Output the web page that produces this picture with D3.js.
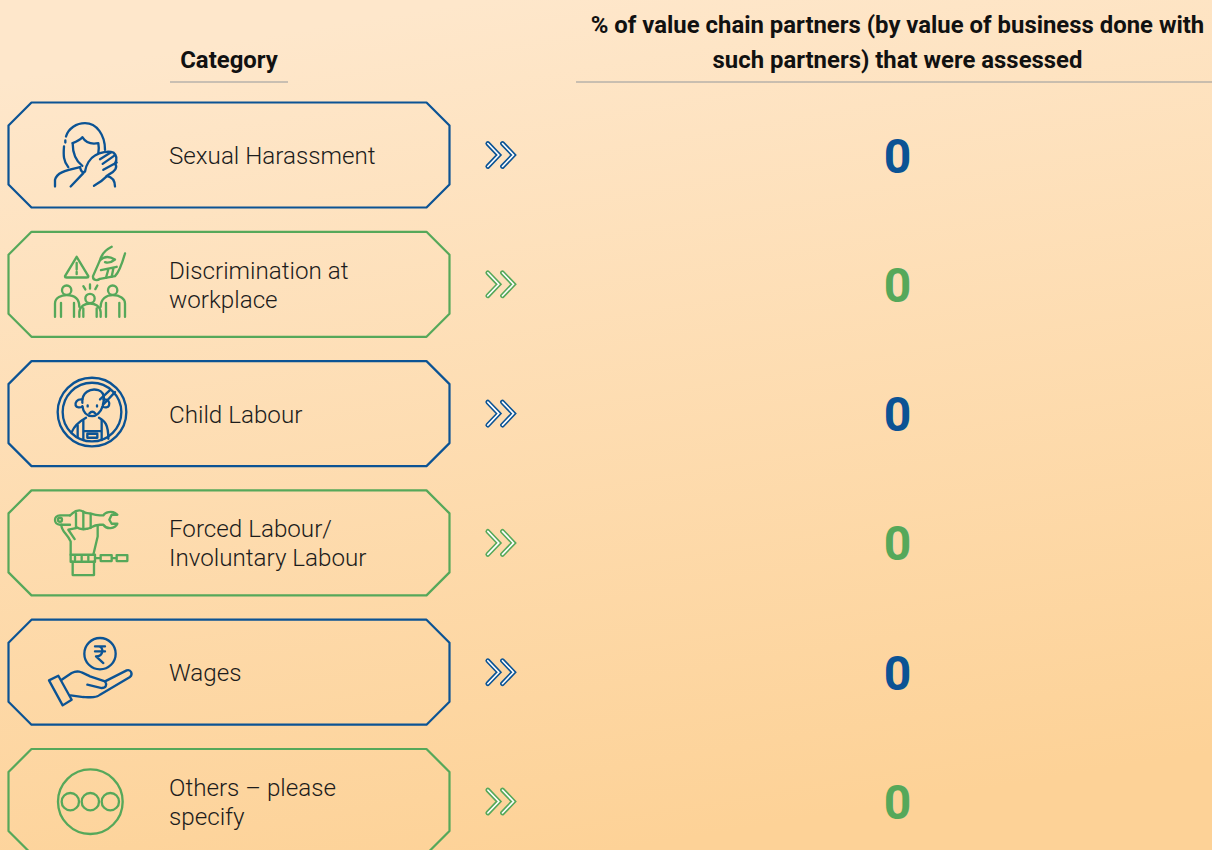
<!DOCTYPE html>
<html>
<head>
<meta charset="utf-8">
<script src="https://cdn.jsdelivr.net/npm/d3@7"></script>
<style>
  html, body { margin: 0; padding: 0; overflow: hidden; }
  svg { display: block; font-family: Roboto, sans-serif; }
</style>
</head>
<body>
<svg id="chart" width="1212" height="850"></svg>
<script>
const categories = [
  ['Sexual Harassment'],
  ['Discrimination at', 'workplace'],
  ['Child Labour'],
  ['Forced Labour/', 'Involuntary Labour'],
  ['Wages'],
  ['Others \u2013 please', 'specify']
];
const values = [0, 0, 0, 0, 0, 0];
const rowColors = ['#0b5394', '#56a85a', '#0b5394', '#56a85a', '#0b5394', '#56a85a'];
const iconNames = ['harassment', 'discrimination', 'child', 'forced', 'wages', 'others'];
const headerLeft = ['Category'];
const headerRight = ['% of value chain partners (by value of business done with', 'such partners) that were assessed'];

const svg = d3.select('#chart');
const width = +svg.attr('width');
const height = +svg.attr('height');

// background wash
const defs = svg.append('defs');
const grad = defs.append('linearGradient')
    .attr('id', 'bg')
    .attr('gradientUnits', 'userSpaceOnUse')
    .attr('x1', 480).attr('y1', 0)
    .attr('x2', 620).attr('y2', 850);
grad.append('stop').attr('offset', '0%').attr('stop-color', '#fee7cb');
grad.append('stop').attr('offset', '100%').attr('stop-color', '#fdd297');
svg.append('rect').attr('width', width).attr('height', height).attr('fill', 'url(#bg)');

// rows
const rowStep = 129.3;
const rowH = 105;
const y = d3.scaleLinear().domain([0, categories.length]).range([102.5, 102.5 + rowStep * categories.length]);
const boxLeft = 8.5, boxRight = 449.5, cut = 23;

// icons are traced in 3x crop space, top is the box top in that space
const icons = {
  harassment: { top: 38, paths: [
    'M198 140C205 115 230 100 255 100C290 100 315 135 315 180',
    'M196 152V158M192 170C190 195 190 215 205 232',
    'M218 160C230 155 240 150 247 142C255 155 270 165 295 160C297 170 297 178 295 190',
    'M218 160C218 190 230 215 247 228',
    'M165 290V270C170 250 190 243 240 232',
    'M212 290L250 250',
    'M240 232C243 245 248 250 255 245C258 225 270 205 285 197C300 187 325 183 340 188C352 198 350 212 345 222C354 232 345 245 325 255C315 265 300 278 282 288',
    'M300 208L332 188M308 222L342 198M310 240L350 218',
    'M320 258C340 262 345 275 345 290'
  ]},
  discrimination: { top: 425, paths: [
    'M230 500L195 558Q195 562 200 562H260Q265 562 265 558Z',
    'M230 518V538M230 545V552',
    'M335 470C315 480 305 492 300 510L279 558C278 572 292 572 300 566L345 558C358 545 365 525 375 490',
    'M300 510C312 498 328 498 345 508C335 516 325 520 315 516M303 540L350 530M318 563L325 538M335 560L340 535',
    'M165 680V640C165 622 185 615 200 615C222 615 238 625 238 650',
    'M183 680V638M222 680V638',
    'M238 680V665C240 648 255 640 270 640C285 640 300 648 302 665V680M250 680V655M290 680V655',
    'M302 650C302 625 320 615 338 615C360 615 375 625 375 640V680M318 680V638M358 680V638',
    'M250 588L256 598M270 583V595M292 586L286 597'
  ], circles: [[200, 600, 14], [338, 600, 14], [270, 625, 14]] },
  child: { top: 35, paths: [
    'M247 160C245 130 270 115 295 122C305 125 312 135 312 150L308 170C302 190 288 200 277 200C262 200 250 190 247 170',
    'M247 150C230 148 225 160 227 168C230 175 240 175 247 172M310 150C325 148 330 160 327 168C324 175 315 175 308 172',
    'M345 128L310 165M330 122L300 150',
    'M268 192Q277 182 286 192M263 168V171M291 168V171',
    'M215 248C225 225 240 215 258 205M297 205C315 215 325 225 325 268',
    'M250 213V272M305 213V272M250 245H305M262 253H292V265H262Z',
    'M233 228V262'
  ], circles: [[276, 188, 103], [276, 188, 88]] },
  forced: { top: 422, paths: [
    'M210 497H180C160 497 160 525 180 525H210',
    'M210 497C220 490 222 482 238 482C250 482 250 490 262 490C275 490 275 495 300 497H310C315 487 335 483 345 490L352 495H335L328 510L335 522H352C345 538 320 540 310 525H300C275 527 275 535 262 537C250 540 240 540 228 532',
    'M228 490V535M250 486V538M272 492V535',
    'M184 525C184 545 200 550 212 575V615M228 535L205 540L224 568M293 528V560L280 615',
    'M212 615H285V636H212ZM225 620V630M245 620V630M265 620V630',
    'M218 636V676H282V636',
    'M285 625H302M302 616H335V634H302ZM335 625H350M350 616H382V634H350Z'
  ], circles: [[180, 510, 6]] },
  wages: { top: 60, paths: [
    'M285 140H315M285 155H315M287 140H295C312 140 312 170 288 170L310 190',
    'M147 242L175 228L215 300L188 317Z',
    'M185 240L215 220C235 210 245 218 270 230L315 245L380 212C392 208 400 222 390 232L300 285C290 295 270 293 250 292L212 287',
    'M262 255L305 265C318 265 322 255 315 245'
  ], circles: [[300, 162, 47]] },
  others: { top: 447, paths: [],
    circles: [[271, 605, 97], [211, 605, 26], [271, 605, 26], [331, 605, 26]] }
};

const row = svg.selectAll('g.row')
    .data(categories)
    .enter()
    .append('g')
    .attr('class', 'row')
    .attr('transform', (d, i) => `translate(0, ${y(i)})`);

// octagon outline
row.append('path')
    .attr('fill', 'none')
    .attr('stroke', (d, i) => rowColors[i])
    .attr('stroke-width', 2.2)
    .attr('stroke-linejoin', 'round')
    .attr('d', d => {
      const l = d3.line();
      return l([
        [boxLeft + cut, 0], [boxRight - cut, 0], [boxRight, cut], [boxRight, rowH - cut],
        [boxRight - cut, rowH], [boxLeft + cut, rowH], [boxLeft, rowH - cut], [boxLeft, cut]
      ]) + 'Z';
    });

// icons
row.each(function (d, i) {
  const icon = icons[iconNames[i]];
  const g = d3.select(this).append('g')
      .attr('transform', `scale(${1 / 3}) translate(0, ${-icon.top})`)
      .attr('fill', 'none')
      .attr('stroke', rowColors[i])
      .attr('stroke-width', 7)
      .attr('stroke-linecap', 'round')
      .attr('stroke-linejoin', 'round');
  g.selectAll('path').data(icon.paths).enter().append('path').attr('d', p => p);
  g.selectAll('circle').data(icon.circles || []).enter().append('circle')
      .attr('cx', c => c[0]).attr('cy', c => c[1]).attr('r', c => c[2]);
});

// labels
const label = row.append('text')
    .attr('x', 169)
    .attr('font-size', 24.2)
    .attr('font-weight', 300)
    .attr('fill', '#1c1c1c');
label.selectAll('tspan')
    .data(d => d.map((t, j) => ({ t, j, n: d.length })))
    .enter()
    .append('tspan')
    .attr('x', 169)
    .attr('y', d => rowH / 2 + 9 + (d.j - (d.n - 1) / 2) * 29)
    .text(d => d.t);

// double chevrons, coloured stroke with white core
const chevron = d3.line();
[0, 14.7].forEach(dx => {
  const pts = [[487.8 + dx, rowH / 2 - 11.5], [498.8 + dx, rowH / 2], [487.8 + dx, rowH / 2 + 11.5]];
  [[4.8, null], [1.6, '#fff']].forEach(([w, c]) => {
    row.append('path')
        .attr('d', chevron(pts))
        .attr('fill', 'none')
        .attr('stroke', (d, i) => c || rowColors[i])
        .attr('stroke-width', w)
        .attr('stroke-linecap', 'round');
  });
});

// values
row.append('text')
    .attr('x', 897.5)
    .attr('y', rowH / 2 + 17.5)
    .attr('text-anchor', 'middle')
    .attr('font-size', 48)
    .attr('font-weight', 700)
    .attr('fill', (d, i) => rowColors[i])
    .text((d, i) => values[i]);

// headers
const header = svg.append('g').attr('font-weight', 700).attr('font-size', 23.9).attr('fill', '#111').attr('text-anchor', 'middle');
header.selectAll('text.left').data(headerLeft).enter().append('text')
    .attr('class', 'left').attr('x', 229).attr('y', 68).text(d => d);
header.selectAll('text.right').data(headerRight).enter().append('text')
    .attr('class', 'right').attr('x', 897.5).attr('y', (d, i) => 33 + i * 35).text(d => d);

svg.append('line').attr('x1', 170).attr('x2', 288).attr('y1', 82).attr('y2', 82).attr('stroke', '#94989c');
svg.append('line').attr('x1', 576).attr('x2', 1212).attr('y1', 82).attr('y2', 82).attr('stroke', '#94989c');
</script>
</body>
</html>
